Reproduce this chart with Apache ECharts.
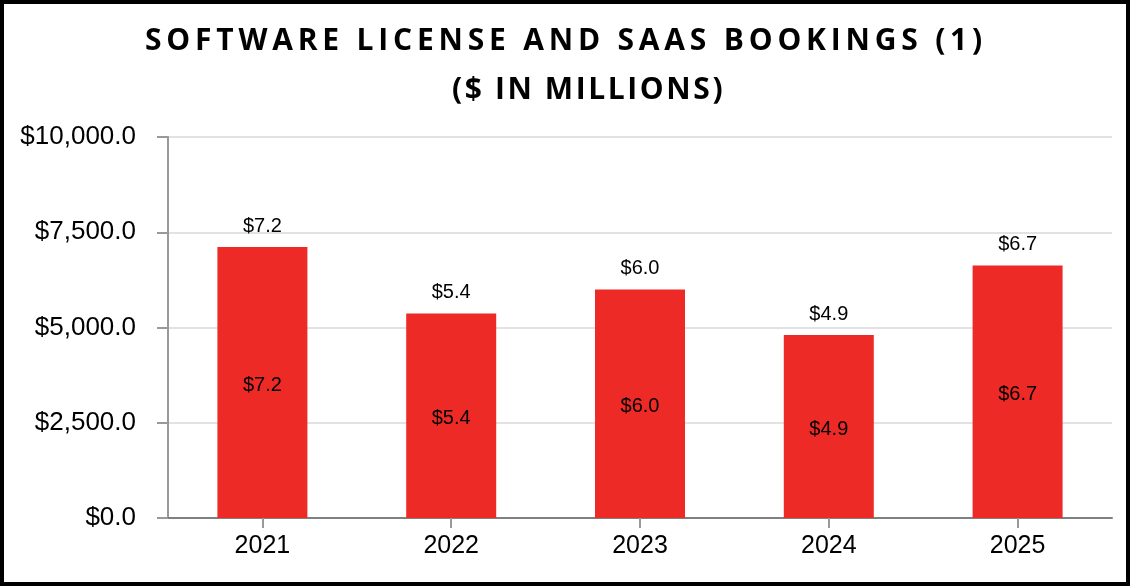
<!DOCTYPE html>
<html>
<head>
<meta charset="utf-8">
<script src="https://cdn.jsdelivr.net/npm/echarts@6/dist/echarts.min.js"></script>
<style>
html,body{margin:0;padding:0;background:#fff;}
#chart{width:1132px;height:586px;}
</style>
</head>
<body>
<div id="chart"></div>
<script>
// Data
var categories = ['2021', '2022', '2023', '2024', '2025'];
var bookings = [7110, 5370, 6000, 4800, 6630];
var valueLabels = ['$7.2', '$5.4', '$6.0', '$4.9', '$6.7'];
var yTicks = [0, 2500, 5000, 7500, 10000];
var titleLines = ['SOFTWARE LICENSE AND SAAS BOOKINGS (1)', '($ IN MILLIONS)'];
var titleSpacing = ['4.8px', '2.6px'];

// letter spacing for the title lines (canvas supports letterSpacing)
(function () {
  var proto = CanvasRenderingContext2D.prototype;
  var orig = proto.fillText;
  proto.fillText = function (t, x, y, m) {
    if ('letterSpacing' in this) {
      var i = titleLines.indexOf(t);
      this.letterSpacing = (i >= 0 && this.font && this.font.indexOf('Open Sans') >= 0) ? titleSpacing[i] : '0px';
    }
    return m === undefined ? orig.call(this, t, x, y) : orig.call(this, t, x, y, m);
  };
})();

function fmtAxis(v) {
  var s = v.toFixed(1);
  var parts = s.split('.');
  parts[0] = parts[0].replace(/\B(?=(\d{3})+(?!\d))/g, ',');
  return '$' + parts.join('.');
}

var titleFont = {
  fontFamily: 'Open Sans',
  fontWeight: 'bold',
  fontSize: 30,
  lineHeight: 49,
  color: '#000000'
};

var chart = echarts.init(document.getElementById('chart'), null, {renderer: 'canvas'});
var option = {
  animation: false,
  backgroundColor: '#ffffff',
  title: [{
    text: titleLines[0],
    left: 'center',
    top: 17,
    padding: 0,
    textStyle: titleFont
  }, {
    text: titleLines[1],
    left: 452,
    top: 66,
    padding: 0,
    textStyle: titleFont
  }],
  graphic: [{
    type: 'rect',
    silent: true,
    z: 100,
    shape: {x: 2, y: 2, width: 1126, height: 582},
    style: {fill: 'none', stroke: '#000000', lineWidth: 4}
  }],
  grid: {left: 168, right: 20, top: 137, bottom: 68, containLabel: false},
  xAxis: {
    type: 'category',
    data: categories,
    axisLine: {lineStyle: {color: '#808080', width: 2}},
    axisTick: {show: true, alignWithLabel: true, length: 10, lineStyle: {color: '#999999', width: 2}},
    axisLabel: {fontFamily: 'Liberation Sans, Arial', fontSize: 25, color: '#000000', margin: 16}
  },
  yAxis: {
    type: 'value',
    min: yTicks[0],
    max: yTicks[yTicks.length - 1],
    interval: yTicks[1] - yTicks[0],
    axisLine: {show: true, lineStyle: {color: '#999999', width: 2}},
    axisTick: {show: true, length: 11, lineStyle: {color: '#999999', width: 2}},
    splitLine: {show: true, lineStyle: {color: '#e2e2e2', width: 2}},
    axisLabel: {fontFamily: 'Liberation Sans, Arial', fontSize: 26, color: '#000000', margin: 32, formatter: fmtAxis}
  },
  series: [{
    type: 'bar',
    data: bookings,
    barWidth: 90,
    itemStyle: {color: '#ee2a26'},
    label: {
      show: true,
      position: 'top',
      distance: 11,
      fontFamily: 'Liberation Sans, Arial',
      fontSize: 20,
      color: '#000000',
      formatter: function (p) { return valueLabels[p.dataIndex]; }
    }
  }, {
    type: 'bar',
    data: bookings,
    barWidth: 90,
    barGap: '-100%',
    itemStyle: {color: 'transparent'},
    label: {
      show: true,
      position: 'inside',
      offset: [0, 3],
      fontFamily: 'Liberation Sans, Arial',
      fontSize: 20,
      color: '#000000',
      formatter: function (p) { return valueLabels[p.dataIndex]; }
    }
  }]
};
chart.setOption(option);
</script>
</body>
</html>
